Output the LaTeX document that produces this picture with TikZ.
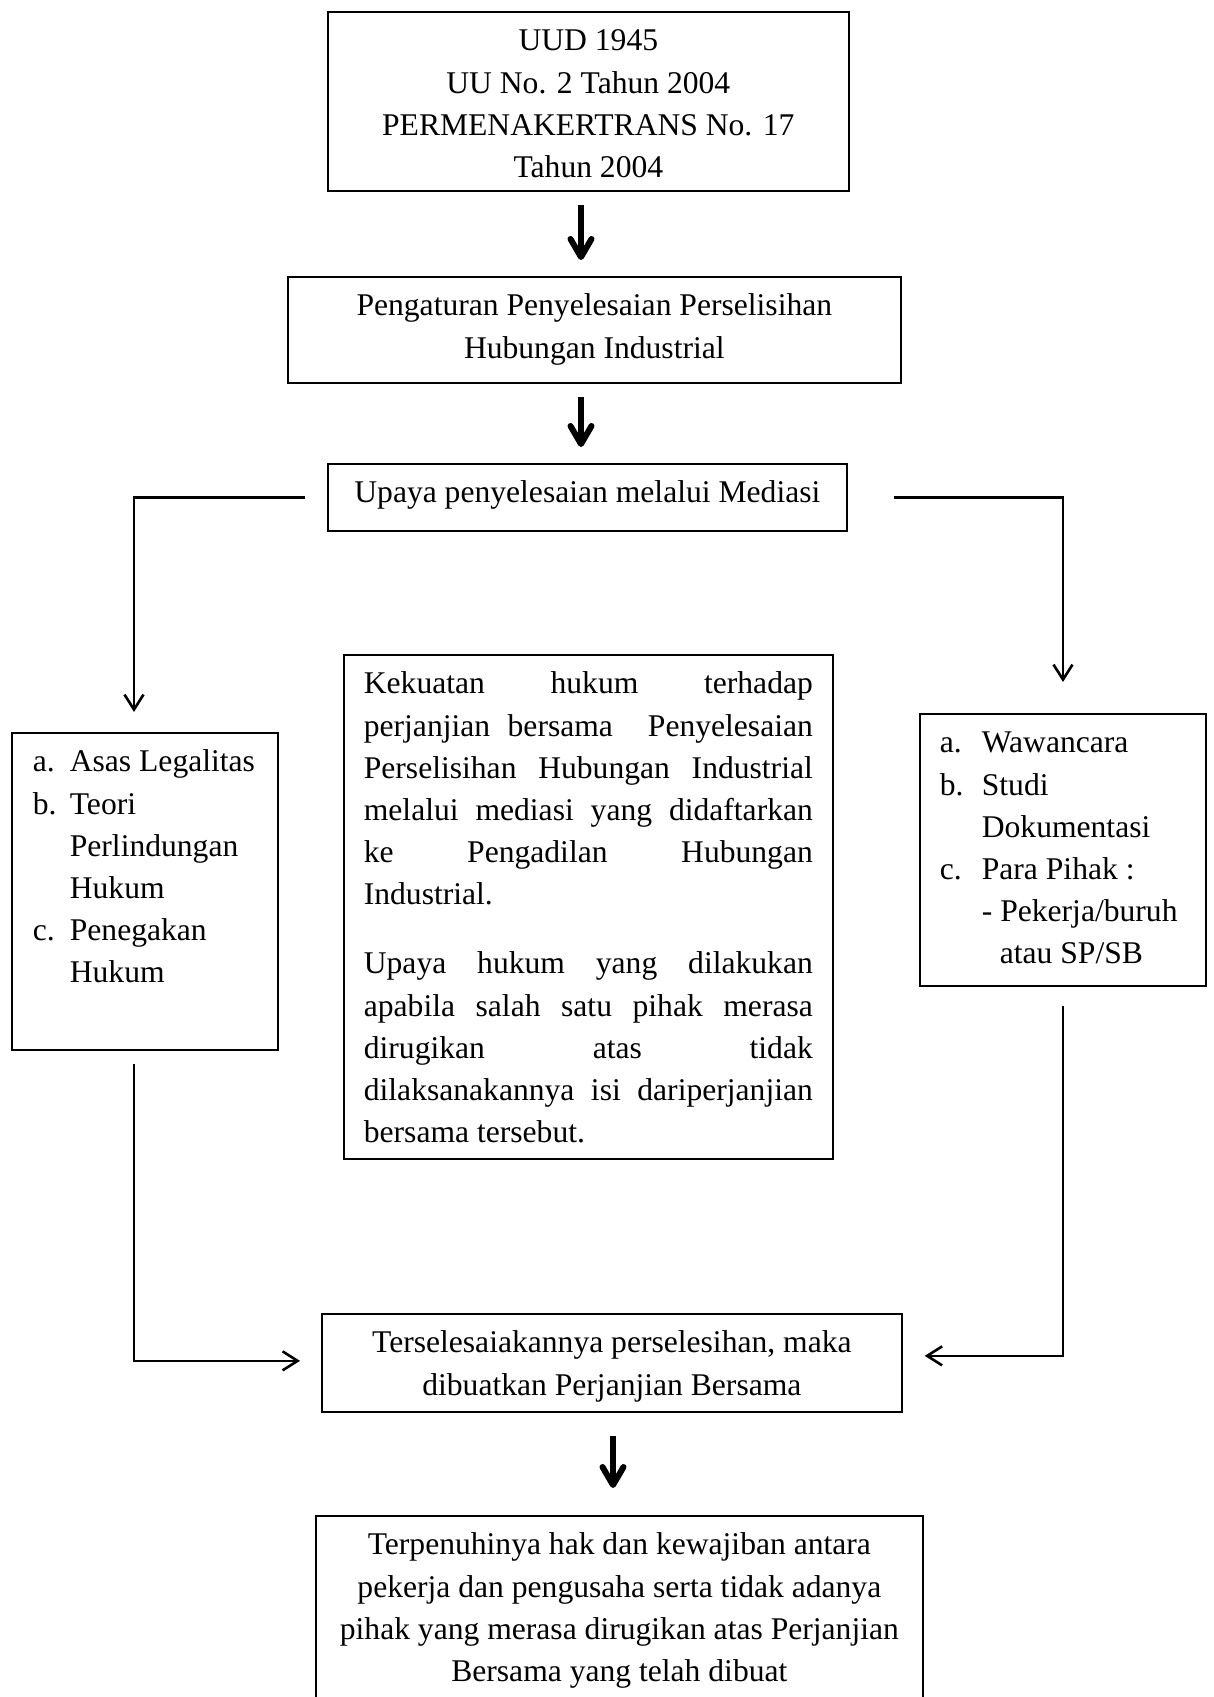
\documentclass[tikz,border=0pt]{standalone}
\usepackage{fontspec}
\setmainfont{Liberation Serif}
\usetikzlibrary{arrows.meta}
\newcommand{\firstline}{\rule{0pt}{19.5pt}}
\newcommand{\bxtext}[3]{\begin{minipage}[c][#2][t]{#1}#3\end{minipage}}
\newcommand{\lrow}[1]{\hbox to \linewidth{#1\hfil}}
\tikzset{
  bx/.style={draw, line width=0.85pt, inner sep=0pt, anchor=north west,
    font=\fontsize{15.8pt}{21.1pt}\selectfont},
  conn/.style={line width=1.3pt, -{Straight Barb[length=7.5pt,width=9.5pt]}},
  bigarr/.style={line width=3pt, -{Straight Barb[length=9pt,width=10.5pt,round]}}
}
\begin{document}
\begin{tikzpicture}[x=0.5pt,y=-0.5pt]
\useasboundingbox (0,0) rectangle (1214,1697);
\fill[white] (0,0) rectangle (1214,1697);

\node[bx] (b1) at (327,11) {\bxtext{260.5pt}{89.5pt}{\centering\firstline UUD 1945\\UU No. 2 Tahun 2004\\PERMENAKERTRANS No. 17\\Tahun 2004}};

\node[bx] (b2) at (287,276) {\bxtext{306.5pt}{53pt}{\centering\firstline Pengaturan Penyelesaian Perselisihan\\Hubungan Industrial}};

\node[bx] (b3) at (327,463) {\bxtext{259.5pt}{33.5pt}{\centering\firstline Upaya penyelesaian melalui Mediasi}};

\node[bx] (b4) at (11,732) {\bxtext{133pt}{158.5pt}{%
\lrow{\firstline\hspace*{10.5pt}\makebox[18.5pt][l]{a.}Asas Legalitas}
\lrow{\hspace*{10.5pt}\makebox[18.5pt][l]{b.}Teori}
\lrow{\hspace*{29pt}Perlindungan}
\lrow{\hspace*{29pt}Hukum}
\lrow{\hspace*{10.5pt}\makebox[18.5pt][l]{c.}Penegakan}
\lrow{\hspace*{29pt}Hukum}}};

\node[bx, inner xsep=10pt] (b5) at (343,654) {\bxtext{224.5pt}{252pt}{%
\hbox to \linewidth{\firstline Kekuatan\hfill hukum\hfill terhadap}
\hbox to \linewidth{perjanjian\hfill bersama\hfill\hfill Penyelesaian}
\hbox to \linewidth{Perselisihan\hfill Hubungan\hfill Industrial}
\hbox to \linewidth{melalui\hfill mediasi\hfill yang\hfill didaftarkan}
\hbox to \linewidth{ke\hfill Pengadilan\hfill Hubungan}
\lrow{Industrial.}
\vspace{13.4pt}
\hbox to \linewidth{Upaya\hfill hukum\hfill yang\hfill dilakukan}
\hbox to \linewidth{apabila\hfill salah\hfill satu\hfill pihak\hfill merasa}
\hbox to \linewidth{dirugikan\hfill atas\hfill tidak}
\hbox to \linewidth{dilaksanakannya\hfill isi\hfill dariperjanjian}
\lrow{bersama tersebut.}}};

\node[bx] (b6) at (919,713) {\bxtext{143pt}{136pt}{%
\lrow{\firstline\hspace*{10pt}\makebox[21pt][l]{a.}Wawancara}
\lrow{\hspace*{10pt}\makebox[21pt][l]{b.}Studi}
\lrow{\hspace*{31pt}Dokumentasi}
\lrow{\hspace*{10pt}\makebox[21pt][l]{c.}Para Pihak :}
\lrow{\hspace*{31pt}- Pekerja/buruh}
\lrow{\hspace*{40pt}atau SP/SB}}};

\node[bx] (b7) at (321,1313) {\bxtext{290pt}{49pt}{\centering\firstline Terselesaiakannya perselesihan, maka\\dibuatkan Perjanjian Bersama}};

\node[bx] (b8) at (315,1515) {\bxtext{303.5pt}{93.5pt}{\centering\firstline Terpenuhinya hak dan kewajiban antara\\pekerja dan pengusaha serta tidak adanya\\pihak yang merasa dirugikan atas Perjanjian\\Bersama yang telah dibuat}};

\coordinate (ax1) at (581,0);
\coordinate (ax3) at (613,0);
\draw[bigarr, shorten <=6.5pt, shorten >=8pt] (b1.south -| ax1) -- (b2.north -| ax1);
\draw[bigarr, shorten <=6.5pt, shorten >=8pt] (b2.south -| ax1) -- (b3.north -| ax1);
\draw[bigarr, shorten <=11.5pt, shorten >=13.5pt] (b7.south -| ax3) -- (b8.north -| ax3);

\coordinate (lt) at (134,712);
\coordinate (rt) at (1063,682);
\coordinate (lb) at (134,1064);
\coordinate (rb) at (1063,1006);
\draw[conn, shorten <=11pt] (b3.west) -| (lt);
\draw[conn, shorten <=23pt] (b3.east) -| (rt);
\draw[conn, shorten >=10.5pt] (lb) |- ([yshift=1pt]b7.west);
\draw[conn, shorten >=11pt] (rb) |- ([yshift=3.5pt]b7.east);
\end{tikzpicture}
\end{document}
